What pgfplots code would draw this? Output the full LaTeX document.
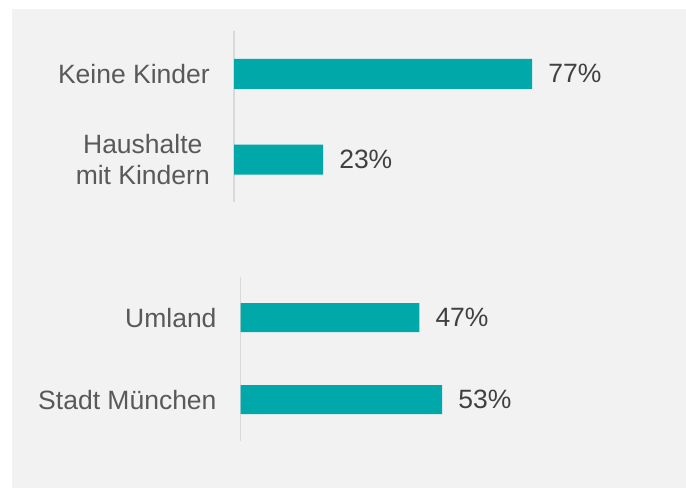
\documentclass[border=0pt]{standalone}
\usepackage{fontspec}
\setmainfont{Liberation Sans}
\usepackage{pgfplots}
\pgfplotsset{compat=1.18}
\definecolor{bgray}{HTML}{F2F2F2}
\definecolor{barteal}{RGB}{0,168,170}
\definecolor{axgray}{HTML}{D9D9D9}
\definecolor{lblgray}{HTML}{595959}
\definecolor{numgray}{HTML}{404040}
\pgfplotsset{
  mybars/.style={
    xbar, scale only axis,
    xmin=0, xmax=100, ymin=-0.5, ymax=1.5,
    hide x axis,
    axis y line=left,
    y axis line style={-, draw=axgray, line width=1.5pt},
    ytick={0,1},
    major tick length=0pt,
    ytick style={draw=none},
    yticklabel style={font=\fontsize{26.5}{31}\selectfont, text=lblgray, align=center, inner sep=0pt, xshift=-24pt},
    nodes near coords={\pgfmathprintnumber[assume math mode=true]{\pgfplotspointmeta}\%},
    nodes near coords style={font=\fontsize{26.5}{31}\selectfont, text=numgray, anchor=west, inner sep=0pt, xshift=16pt},
    clip=false,
  }
}
\begin{document}
\begin{tikzpicture}
\fill[white] (0pt,0pt) rectangle (686pt,-488pt);
\fill[bgray] (12pt,-9pt) rectangle (686pt,-488pt);
\begin{axis}[mybars,
  anchor=north west, at={(234pt,-31pt)},
  width=387.3pt, height=171.4pt,
  bar width=30pt,
  yticklabels={Haushalte\\mit Kindern, Keine Kinder}]
\addplot[fill=barteal, draw=none] coordinates {(23,0) (77,1)};
\end{axis}
\begin{axis}[mybars,
  anchor=north west, at={(240.7pt,-276.7pt)},
  width=380pt, height=163.8pt,
  bar width=29pt,
  yticklabels={Stadt München, Umland}]
\addplot[fill=barteal, draw=none] coordinates {(53,0) (47,1)};
\end{axis}
\end{tikzpicture}
\end{document}
